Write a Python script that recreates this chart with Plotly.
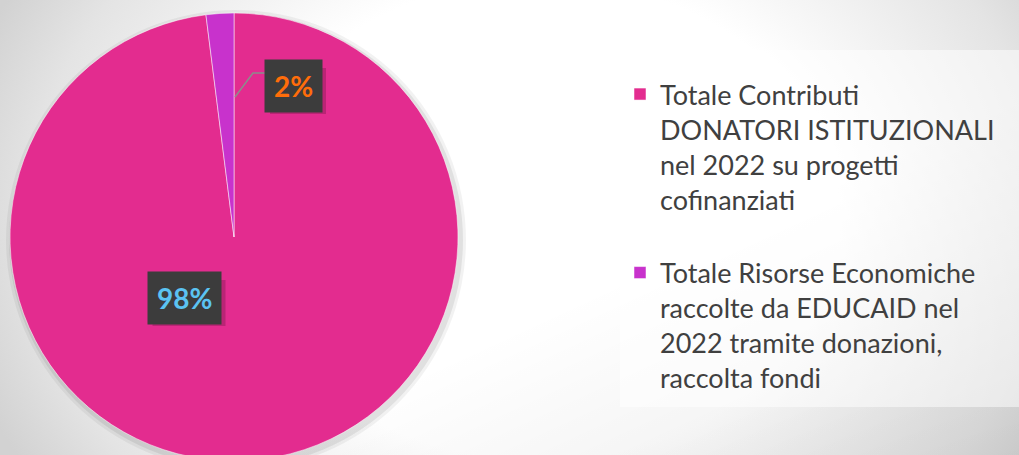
import base64
import plotly.graph_objects as go

# data
labels = [
    "Totale Contributi<br>DONATORI ISTITUZIONALI<br>nel 2022 su progetti<br>cofinanziati<br> ",
    "Totale Risorse Economiche<br>raccolte da EDUCAID nel<br>2022 tramite donazioni,<br>raccolta fondi",
]
values = [98, 2]
colors = ["#E32C8F", "#C832CC"]
label_colors = ["#5BC3F2", "#FF6D0A"]

W, H = 1019, 470

def px(x):
    return x / W

def py(y):
    return 1 - y / H

# soft grey background (radial gradient like the slide)
svg = f"""<svg xmlns='http://www.w3.org/2000/svg' width='{W}' height='{H}' preserveAspectRatio='none'>
<defs>
<radialGradient id='g' gradientUnits='userSpaceOnUse' cx='540' cy='220' r='600'
 gradientTransform='translate(540 220) scale(1 0.8) translate(-540 -220)'>
<stop offset='0' stop-color='#ffffff'/>
<stop offset='0.5' stop-color='#ffffff'/>
<stop offset='0.85' stop-color='#e4e4e4'/>
<stop offset='1' stop-color='#d2d2d2'/>
</radialGradient>
<linearGradient id='d' x1='0' y1='0' x2='1' y2='1'>
<stop offset='0' stop-color='#000' stop-opacity='0'/>
<stop offset='0.6' stop-color='#000' stop-opacity='0'/>
<stop offset='1' stop-color='#000' stop-opacity='0.08'/>
</linearGradient>
</defs>
<rect width='{W}' height='{H}' fill='url(#g)'/>
<rect width='{W}' height='{H}' fill='url(#d)'/>
</svg>"""
bg = "data:image/svg+xml;base64," + base64.b64encode(svg.encode()).decode()

fig = go.Figure(go.Pie(
    labels=labels,
    values=values,
    sort=False,
    direction="clockwise",
    rotation=0,
    marker=dict(colors=colors, line=dict(color="rgba(255,255,255,0.5)", width=1)),
    textinfo="none",
    hoverinfo="skip",
    domain=dict(x=[px(10), px(458)], y=[py(461), py(13)]),
))

total = sum(values)
pct = [f"{round(v * 100 / total)}%" for v in values]
label_pos = [(184, 298), (293, 86)]
box_size = [(73, 46), (56, 46)]

for i in range(len(values)):
    x, y = label_pos[i]
    bw, bh = box_size[i]
    # drop shadow behind the label box
    fig.add_shape(type="rect", xref="paper", yref="paper", layer="above",
                  x0=px(x - bw / 2 + 5), x1=px(x + bw / 2 + 5),
                  y0=py(y + bh / 2 + 5), y1=py(y - bh / 2 + 5),
                  fillcolor="rgba(0,0,0,0.18)", line=dict(width=0))
    fig.add_annotation(
        x=px(x), y=py(y), xref="paper", yref="paper", showarrow=False,
        xanchor="center", yanchor="middle",
        text=f"<b>{pct[i]}</b>", font=dict(family="Lato", size=28, color=label_colors[i]),
        bgcolor="#3c3c3c", borderpad=9,
    )

# soft shadow round the pie
for r, a in [(230, 0.05), (227, 0.07)]:
    fig.add_shape(type="circle", xref="paper", yref="paper", layer="below",
                  x0=px(236 - r), x1=px(236 + r), y0=py(240 + r), y1=py(240 - r),
                  fillcolor=f"rgba(0,0,0,{a})", line=dict(width=0))

# legend panel
fig.add_shape(type="rect", xref="paper", yref="paper", layer="below",
              x0=px(620), x1=1, y0=py(407), y1=py(50),
              fillcolor="rgba(255,255,255,0.5)", line=dict(width=0))

# leader line for the small slice
fig.add_shape(
    type="path", xref="paper", yref="paper",
    path=f"M {px(235)} {py(97)} L {px(253)} {py(73)} L {px(265)} {py(73)}",
    line=dict(color="#8c8c8c", width=1.5),
)

fig.update_layout(
    width=W, height=H,
    margin=dict(l=0, r=0, t=0, b=0),
    paper_bgcolor="#f4f4f4",
    images=[dict(source=bg, xref="paper", yref="paper", x=0, y=1, sizex=1, sizey=1,
                 sizing="stretch", layer="below", xanchor="left", yanchor="top")],
    legend=dict(
        x=px(620), y=py(70), xanchor="left", yanchor="top",
        bgcolor="rgba(0,0,0,0)",
        font=dict(family="Lato", size=27, color="#404040"),
        valign="top",
    ),
    showlegend=True,
)

fig.write_html("out.html", config={"displayModeBar": False},
               post_script="document.body.style.margin='0';document.body.style.overflow='hidden';")
